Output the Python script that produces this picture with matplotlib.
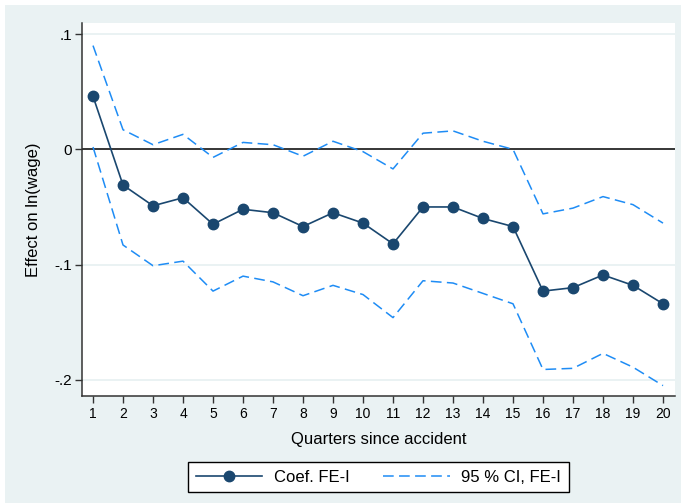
import matplotlib.pyplot as plt
from matplotlib.patches import Rectangle
from matplotlib.lines import Line2D

plt.rcParams["font.family"] = ["Liberation Sans", "DejaVu Sans"]

quarters = list(range(1, 21))
coef = [0.046, -0.031, -0.049, -0.042, -0.065, -0.052, -0.055, -0.067, -0.055, -0.064,
        -0.082, -0.050, -0.050, -0.060, -0.067, -0.123, -0.120, -0.109, -0.118, -0.134]
ci_upper = [0.090, 0.017, 0.004, 0.013, -0.007, 0.006, 0.004, -0.006, 0.007, -0.002,
            -0.017, 0.014, 0.016, 0.007, 0.000, -0.056, -0.051, -0.041, -0.048, -0.064]
ci_lower = [0.002, -0.083, -0.101, -0.097, -0.123, -0.110, -0.115, -0.127, -0.118, -0.126,
            -0.146, -0.114, -0.116, -0.125, -0.134, -0.191, -0.190, -0.177, -0.189, -0.205]
y_ticks = [0.1, 0, -0.1, -0.2]
y_tick_labels = [".1", "0", "-.1", "-.2"]

W, H = 687, 503
bg = "#eaf2f3"
navy = "#1a476f"
blue = "#1e8cf5"

fig = plt.figure(figsize=(W / 100, H / 100), dpi=100, facecolor="white")
fig.patches.append(Rectangle((5 / W, 0), 676 / W, 498 / H, transform=fig.transFigure,
                             facecolor=bg, edgecolor="none", zorder=-10))

ax = fig.add_axes([82 / W, (H - 396) / H, (675 - 82) / W, (396 - 23) / H])
ax.set_facecolor("white")

for y in [0.1, -0.1, -0.2]:
    ax.axhline(y, color=bg, lw=1.4, zorder=1)
ax.axhline(0, color="black", lw=1.1, zorder=2)

ax.plot(quarters, ci_upper, color=blue, lw=1.1, dashes=(7, 3.5), zorder=3)
ax.plot(quarters, ci_lower, color=blue, lw=1.1, dashes=(7, 3.5), zorder=3)
ax.plot(quarters, coef, color=navy, lw=1.2, marker="o", ms=7.5, zorder=4)

ax.set_xlim(0.633, 20.4)
ax.set_ylim(-0.214, 0.1096)
ax.set_xticks(quarters)
ax.set_yticks(y_ticks)
ax.set_yticklabels(y_tick_labels)
ax.tick_params(axis="x", labelsize=10, length=5, width=1, color="#333333", pad=3)
ax.tick_params(axis="y", labelsize=11, length=5, width=1, color="#333333", pad=2)

for side in ["top", "right"]:
    ax.spines[side].set_visible(False)
for side in ["left", "bottom"]:
    ax.spines[side].set_color("#333333")
    ax.spines[side].set_linewidth(1.1)

ax.set_xlabel("Quarters since accident", fontsize=12, labelpad=8)
ax.set_ylabel("Effect on ln(wage)", fontsize=12, labelpad=10)

handles = [
    Line2D([], [], color=navy, lw=1.2, marker="o", ms=7.5),
    Line2D([], [], color=blue, lw=1.1, dashes=(7, 3.5)),
]
leg = fig.legend(handles, ["Coef. FE-I", "95 % CI, FE-I"], loc="center",
                 bbox_to_anchor=(378.5 / W, (H - 477) / H), ncol=2, fontsize=12,
                 frameon=True, fancybox=False, edgecolor="black", framealpha=1,
                 handlelength=4.0, handletextpad=0.7, columnspacing=2.0, borderpad=0.45)
leg.get_frame().set_linewidth(1.0)

fig.savefig("out.png", dpi=100, facecolor="white")
